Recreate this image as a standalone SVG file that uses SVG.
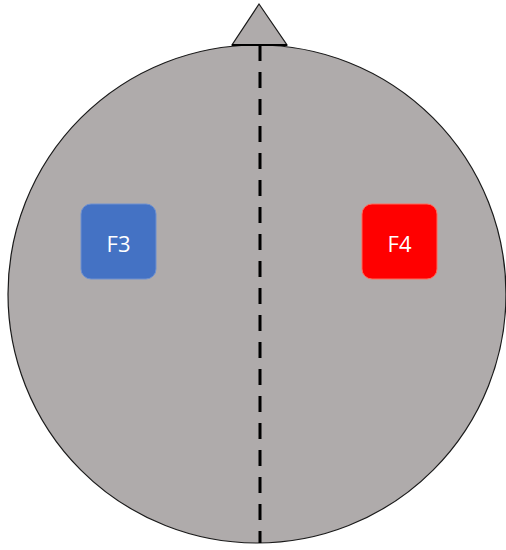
<svg xmlns="http://www.w3.org/2000/svg" width="506" height="550" viewBox="0 0 506 550">
  <style>
    .head { fill: #AFABAB; stroke: #1a1a1a; stroke-width: 1.2; }
    .midline { stroke: #000; stroke-width: 3; stroke-dasharray: 16 11; fill: none; }
    .label { font-family: "Open Sans", "Liberation Sans", sans-serif; font-size: 22px; fill: #fff; text-anchor: middle; dominant-baseline: central; }
  </style>
  <rect width="506" height="550" fill="#fff"/>
  <!-- head outline with nose -->
  <g id="head">
    <polygon class="head" points="259,4 232,45 287,45"/>
    <circle class="head" cx="257" cy="294" r="249"/>
    <line x1="232" y1="45" x2="287" y2="45" stroke="#000" stroke-width="2"/>
  </g>
  <g id="connectors">
    <line class="midline" x1="260" y1="45" x2="260" y2="543"/>
  </g>
  <g id="F3">
    <rect x="81" y="204" width="75" height="75" rx="10" fill="#4472C4" stroke="#6E90D0" stroke-width="1"/>
    <text class="label" x="118.5" y="243">F3</text>
  </g>
  <g id="F4">
    <rect x="362" y="204" width="75" height="75" rx="10" fill="#FF0000" stroke="#FF6A5A" stroke-width="1"/>
    <text class="label" x="399.5" y="243">F4</text>
  </g>
</svg>
